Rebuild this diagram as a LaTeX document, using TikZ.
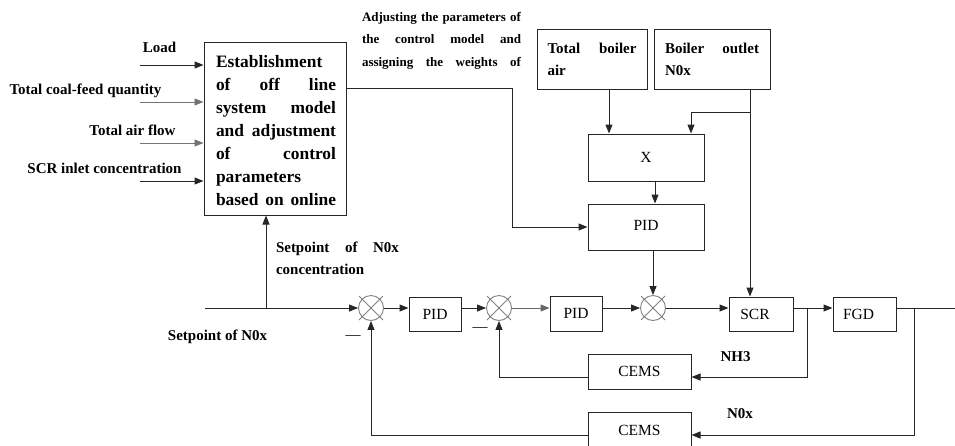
\documentclass[tikz,border=0pt]{standalone}
\usepackage{fontspec}
\setmainfont{Liberation Serif}
\usetikzlibrary{arrows.meta}
\begin{document}
\begin{tikzpicture}[x=1pt,y=-1pt,
  ln/.style={line width=1pt, draw=black!85},
  thin/.style={line width=0.7pt, draw=black!55},
  arr/.style={ln,-{Triangle[length=9pt,width=7pt]}},
  tarr/.style={thin,-{Triangle[length=9pt,width=7pt]}},
  blk/.style={draw=black!85, line width=1pt, inner sep=0pt, font=\fontsize{15.5}{18}\selectfont},
  lbl/.style={inner sep=0pt, font=\fontsize{15}{18}\selectfont\bfseries},
  sumj/.style={circle, draw=gray, line width=0.9pt, minimum size=25pt, inner sep=0pt},
]
\useasboundingbox (0,0) rectangle (955,445);

% big model box
\node[blk, minimum width=142pt, minimum height=173pt] (model) at (275,128.5) {};
\node[inner sep=0pt, font=\fontsize{17.4}{23}\selectfont\bfseries] (modeltxt) at (276,131)
  {\vbox{\baselineskip=23pt
   \hbox to 120pt{Establishment\hfil}
   \hbox to 120pt{of\hfill off\hfill line}
   \hbox to 120pt{system\hfill model}
   \hbox to 120pt{and\hfill adjustment}
   \hbox to 120pt{of\hfill control}
   \hbox to 120pt{parameters\hfil}
   \hbox to 120pt{based\hfill on\hfill online}}};

% input labels
\node[lbl] (lload) at (159.5,47) {Load};
\node[lbl] (lcoal) at (85.5,91) {Total coal-feed quantity};
\node[lbl] (lair) at (132.5,130) {Total air flow};
\node[lbl] (lscr) at (104.5,168) {SCR inlet concentration};
\coordinate (i1) at (140,65);
\coordinate (i2) at (140,102);
\coordinate (i3) at (140,143);
\coordinate (i4) at (140,181);
\draw[arr] (i1) -- (model.west |- i1);
\draw[tarr] (i2) -- (model.west |- i2);
\draw[tarr] (i3) -- (model.west |- i3);
\draw[arr] (i4) -- (model.west |- i4);

% top text
\node[inner sep=0pt, font=\fontsize{13}{22.5}\selectfont\bfseries] (adj) at (441.5,40.5)
  {\vbox{\baselineskip=22.5pt
   \hbox to 159pt{Adjusting\hfill the\hfill parameters\hfill of}
   \hbox to 159pt{the\hfill control\hfill model\hfill and}
   \hbox to 159pt{assigning\hfill the\hfill weights\hfill of}}};

% top boxes
\node[blk, minimum width=110pt, minimum height=60pt, font=\fontsize{15}{22}\selectfont\bfseries] (tba) at (592,59)
  {\vbox{\baselineskip=22pt \hbox to 89pt{Total\hfill boiler}\hbox to 89pt{air\hfil}}};
\node[blk, minimum width=116pt, minimum height=60pt, font=\fontsize{15}{22}\selectfont\bfseries] (bon) at (712,59)
  {\vbox{\baselineskip=22pt \hbox to 94pt{Boiler\hfill outlet}\hbox to 94pt{N0x\hfil}}};
\node[blk, minimum width=116pt, minimum height=47pt] (xbox) at (646,157.5) {X};
\node[blk, minimum width=116pt, minimum height=46pt] (pidtop) at (646,227) {\raisebox{4pt}{PID}};

% main loop
\node[sumj] (s1) at (371,308) {};
\node[sumj] (s2) at (499,308) {};
\node[sumj] (s3) at (653,308) {};
\foreach \s in {s1,s2,s3}{
  \draw[gray, line width=0.8pt] ([shift={(-12,-12)}]\s.center) -- ([shift={(12,12)}]\s.center);
  \draw[gray, line width=0.8pt] ([shift={(-12,12)}]\s.center) -- ([shift={(12,-12)}]\s.center);
}
\node[blk, minimum width=52pt, minimum height=34pt] (pid1) at (435,314) {PID};
\node[blk, minimum width=52pt, minimum height=35pt] (pid2) at (576,313.5) {PID};
\node[blk, minimum width=64pt, minimum height=34pt] (scr) at (761,314) {\hspace*{-12pt}SCR};
\node[blk, minimum width=63pt, minimum height=34pt] (fgd) at (864.5,314) {\hspace*{-12pt}FGD};
\node[blk, minimum width=103pt, minimum height=35pt] (cems1) at (639.5,371.5) {CEMS};
\node[blk, minimum width=103pt, minimum height=36pt] (cems2) at (639.5,430) {CEMS};

\coordinate (start) at (205,308);
\coordinate (br) at (266,308);
\coordinate (out) at (955,308);
\coordinate (t1) at (807,308);
\coordinate (t2) at (914,308);
\coordinate (fb1) at (0,377);
\coordinate (fb2) at (0,435);
\coordinate (c609) at (609,0);
\coordinate (c750) at (750,0);
\coordinate (c655) at (655,0);
\coordinate (k0) at (750,112);
\coordinate (k1) at (691,112);
\coordinate (k2) at (512,88);

\draw[arr] (start) -- (s1.west);
\draw[arr] (br) -- (model.south -| br);
\draw[arr] (s1.east) -- (pid1.west |- s1);
\draw[arr] (pid1.east |- s1) -- (s2.west);
\draw[line width=1pt, draw=black!60, -{Triangle[length=9pt,width=7pt]}] (s2.east) -- (pid2.west |- s2);
\draw[arr] (pid2.east |- s3) -- (s3.west);
\draw[arr] (s3.east) -- (scr.west |- s3);
\draw[arr] (scr.east |- s3) -- (fgd.west |- s3);
\draw[ln] (fgd.east |- s3) -- (out);

% feedbacks
\draw[arr] (t1) |- (cems1.east |- fb1);
\draw[arr] (cems1.west |- fb1) -| (s2.south);
\draw[arr] (t2) |- (cems2.east |- fb2);
\draw[arr] (cems2.west |- fb2) -| (s1.south);

% top connections
\draw[arr] (tba.south -| c609) -- (xbox.north -| c609);
\draw[arr] (bon.south -| c750) -- (scr.north -| c750);
\draw[arr] (k0) -- (k1) -- (xbox.north -| k1);
\draw[arr] (xbox.south -| c655) -- (pidtop.north -| c655);
\draw[arr] (pidtop.south -| s3) -- (s3.north);
\draw[arr] (model.east |- k2) -- (k2) |- (pidtop.west);

% labels
\node[lbl] (lset) at (217.5,337) {Setpoint of N0x};
\node[inner sep=0pt, font=\fontsize{15}{22}\selectfont\bfseries] (lset2) at (337.5,258)
  {\vbox{\baselineskip=22pt \hbox to 123pt{Setpoint\hfill of\hfill N0x}\hbox to 123pt{concentration\hfil}}};
\node[lbl] (lnh3) at (735.5,357) {NH3};
\node[lbl] (lnox) at (740,414) {N0x};
\node[inner sep=0pt, font=\fontsize{15}{18}\selectfont] (m1) at (353,338) {—};
\node[inner sep=0pt, font=\fontsize{15}{18}\selectfont] (m2) at (480,330) {—};
\end{tikzpicture}
\end{document}
